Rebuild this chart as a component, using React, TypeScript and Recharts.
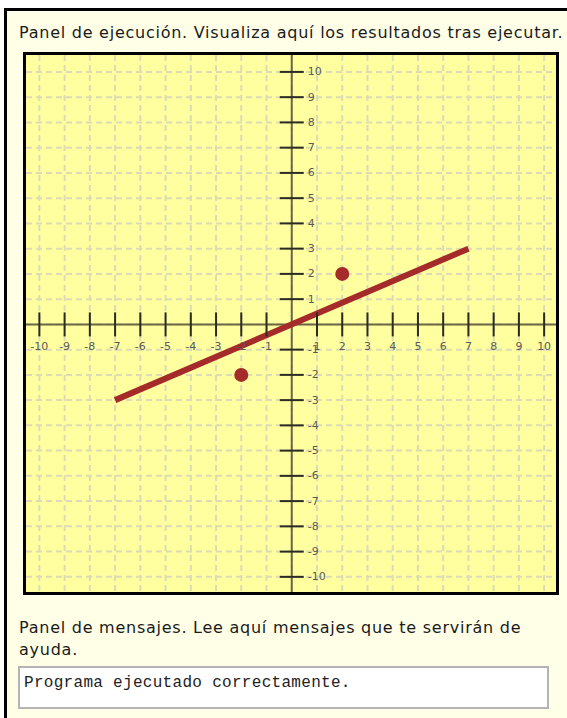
import {
  ComposedChart,
  Line,
  Scatter,
  XAxis,
  YAxis,
  CartesianGrid,
  ReferenceLine,
  ReferenceDot,
} from 'recharts';

// axis tick values shown on both axes (0 has no tick/label)
const tickValues = [-10, -9, -8, -7, -6, -5, -4, -3, -2, -1, 0, 1, 2, 3, 4, 5, 6, 7, 8, 9, 10];
const labelledTicks = [-10, -9, -8, -7, -6, -5, -4, -3, -2, -1, 1, 2, 3, 4, 5, 6, 7, 8, 9, 10];

// segment drawn by the program
const lineX = [-7, 7];
const lineY = [-3, 3];

// points drawn by the program
const pointX = [2, -2];
const pointY = [2, -2];

const xDomain = [-10.53, 10.47];
const yDomain = [-10.6, 10.67];

const lineData = lineX.map((x, i) => ({ x, y: lineY[i] }));
const pointData = pointX.map((x, i) => ({ x, y: pointY[i] }));

const RED = '#A52A2A';
const AXIS = '#6B6840';
const TICK = '#2B2B22';
const LABEL = '#5A5A5A';
const SANS = '"DejaVu Sans", Verdana, sans-serif';

function XTick(value: number) {
  return (p: any) => (
    <g>
      <line x1={p.cx} y1={p.cy - 12} x2={p.cx} y2={p.cy + 12} stroke={TICK} strokeWidth={2} />
      <text
        x={p.cx}
        y={p.cy + 22}
        textAnchor="middle"
        dominantBaseline="central"
        fontSize={11}
        fontFamily={SANS}
        fill={LABEL}
      >
        {value}
      </text>
    </g>
  );
}

function YTick(value: number) {
  return (p: any) => (
    <g>
      <line x1={p.cx - 12} y1={p.cy} x2={p.cx + 12} y2={p.cy} stroke={TICK} strokeWidth={2} />
      <text
        x={p.cx + 16}
        y={p.cy}
        textAnchor="start"
        dominantBaseline="central"
        fontSize={11}
        fontFamily={SANS}
        fill={LABEL}
      >
        {value}
      </text>
    </g>
  );
}

const scaleOf = (axis: any) => (v: number) => {
  const s = axis?.scale;
  if (typeof s === 'function') return s(v);
  if (s && typeof s.map === 'function') return s.map(v);
  return 0;
};

function Plane() {
  return (
    <ComposedChart width={530} height={537} margin={{ top: 0, right: 0, bottom: 0, left: 0 }}>
      <XAxis
        dataKey="x"
        type="number"
        domain={xDomain}
        ticks={tickValues}
        allowDataOverflow
        height={0}
        tick={false}
        axisLine={false}
        tickLine={false}
      />
      <YAxis
        dataKey="y"
        type="number"
        domain={yDomain}
        ticks={tickValues}
        allowDataOverflow
        width={0}
        tick={false}
        axisLine={false}
        tickLine={false}
      />
      <CartesianGrid
        stroke="#DCDCB4"
        strokeWidth={2}
        strokeDasharray="6 4"
        verticalCoordinatesGenerator={({ xAxis }: any) => tickValues.map(scaleOf(xAxis))}
        horizontalCoordinatesGenerator={({ yAxis }: any) => tickValues.map(scaleOf(yAxis))}
      />
      <ReferenceLine x={0} stroke={AXIS} strokeWidth={2} />
      <ReferenceLine y={0} stroke={AXIS} strokeWidth={2} />
      {labelledTicks.map((v) => (
        <ReferenceDot key={'x' + v} x={v} y={0} r={0} shape={XTick(v)} />
      ))}
      {labelledTicks.map((v) => (
        <ReferenceDot key={'y' + v} x={0} y={v} r={0} shape={YTick(v)} />
      ))}
      <Line
        data={lineData}
        dataKey="y"
        stroke={RED}
        strokeWidth={6}
        dot={false}
        activeDot={false}
        isAnimationActive={false}
      />
      <Scatter
        data={pointData}
        fill={RED}
        isAnimationActive={false}
        shape={(p: any) => <circle cx={p.cx} cy={p.cy} r={7} fill={RED} />}
      />
    </ComposedChart>
  );
}

export default function App() {
  return (
    <div
      style={{
        position: 'fixed',
        left: 0,
        top: 0,
        width: 567,
        height: 718,
        background: '#fff',
        overflow: 'hidden',
      }}
    >
      <div
        style={{
          position: 'absolute',
          left: 4,
          top: 8,
          width: 620,
          height: 740,
          border: '3px solid #000',
          background: '#FFFFE8',
        }}
      />
      <div
        style={{
          position: 'absolute',
          left: 19,
          top: 23,
          fontFamily: SANS,
          fontSize: 16,
          letterSpacing: '0.75px',
          color: '#1a1a1a',
          whiteSpace: 'nowrap',
        }}
      >
        Panel de ejecución. Visualiza aquí los resultados tras ejecutar.
      </div>
      <div
        style={{
          position: 'absolute',
          left: 23,
          top: 52,
          width: 530,
          height: 537,
          border: '3px solid #000',
          background: '#FFFFA0',
        }}
      >
        <Plane />
      </div>
      <div
        style={{
          position: 'absolute',
          left: 19,
          top: 617,
          width: 530,
          fontFamily: SANS,
          fontSize: 16,
          letterSpacing: '0.75px',
          lineHeight: '22px',
          color: '#1a1a1a',
        }}
      >
        Panel de mensajes. Lee aquí mensajes que te servirán de ayuda.
      </div>
      <div
        style={{
          position: 'absolute',
          left: 18,
          top: 666,
          width: 527,
          height: 39,
          border: '2px solid #B4B4B4',
          background: '#fff',
        }}
      >
        <div
          style={{
            position: 'absolute',
            left: 4,
            top: 6,
            fontFamily: '"Liberation Mono", "Courier New", monospace',
            fontSize: 16,
            letterSpacing: '0.3px',
            color: '#222',
            whiteSpace: 'nowrap',
          }}
        >
          Programa ejecutado correctamente.
        </div>
      </div>
    </div>
  );
}
